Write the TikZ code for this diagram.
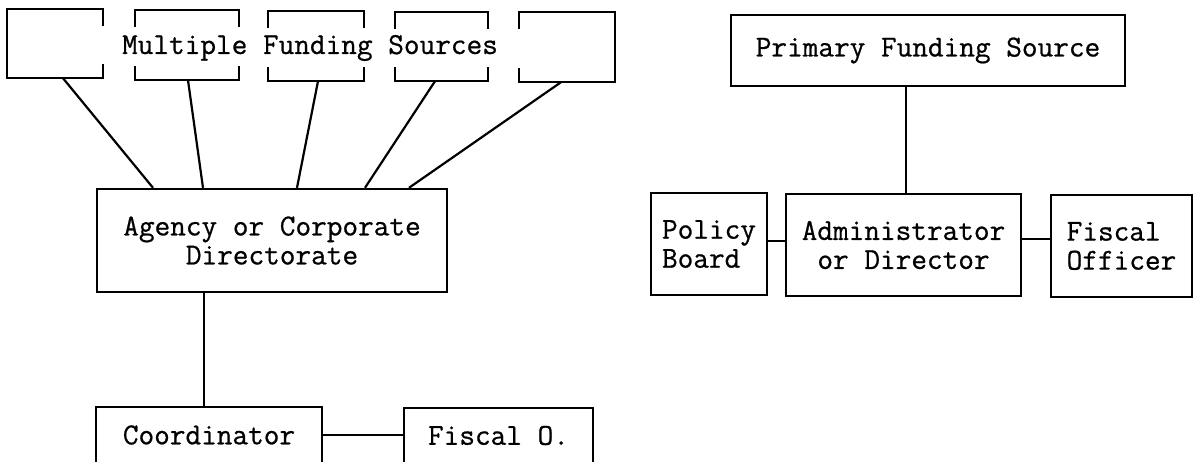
\documentclass[tikz,border=0pt]{standalone}
\usepackage{fontspec}
\newfontfamily\tw{Latin Modern Mono}[FakeBold=0.7]
\begin{document}
\begin{tikzpicture}[x=1pt,y=-1pt,line width=2.4pt,
  txt/.style={font=\tw\fontsize{30.4}{29}\selectfont},
  box/.style={draw,rectangle,inner sep=0pt,txt,align=center},
  lbox/.style={draw,rectangle,inner sep=0pt,txt,align=left},
  fbox/.style={rectangle,inner sep=0pt},
  link/.style={line width=2.2pt}]
\useasboundingbox (0,0) rectangle (1196,461);
\fill[white] (0,0) rectangle (1196,461);
\clip (0,0) rectangle (1196,461);
% multiple funding sources
\node[fbox,minimum width=94pt,minimum height=67pt] (f1) at (55,43.5) {};
\node[fbox,minimum width=102pt,minimum height=68pt] (f2) at (187,45) {};
\node[fbox,minimum width=94pt,minimum height=68pt] (f3) at (316,46) {};
\node[fbox,minimum width=91pt,minimum height=67pt] (f4) at (441.5,46.5) {};
\node[fbox,minimum width=94pt,minimum height=68pt] (f5) at (567,47) {};
\node[txt,inner sep=0pt] (msrc) at (310,48) {Multiple Funding Sources};
\draw ([yshift=-17pt]f1.north east) -- (f1.north east) -- (f1.north west) -- (f1.south west) -- (f1.south east) -- ([yshift=14pt]f1.south east);
\foreach \b in {f2,f3,f4}{
  \draw ([yshift=-17pt]\b.north west) -- (\b.north west) -- (\b.north east) -- ([yshift=-17pt]\b.north east);
  \draw ([yshift=14pt]\b.south west) -- (\b.south west) -- (\b.south east) -- ([yshift=14pt]\b.south east);
}
\draw ([yshift=-17pt]f5.north west) -- (f5.north west) -- (f5.north east) -- (f5.south east) -- (f5.south west) -- ([yshift=14pt]f5.south west);
% left hierarchy
\node[box,minimum width=350pt,minimum height=103pt] (agency) at (272,240.5) {Agency or Corporate\\Directorate};
\node[box,minimum width=226pt,minimum height=56pt] (coord) at (209,435) {Coordinator};
\node[box,minimum width=189pt,minimum height=55pt] (fo2) at (498.5,435.5) {Fiscal O.};
\draw[link] ([xshift=8pt]f1.south) -- ([xshift=-119pt]agency.north);
\draw[link] ([xshift=1pt]f2.south) -- ([xshift=-69pt]agency.north);
\draw[link] ([xshift=2pt]f3.south) -- ([xshift=25pt]agency.north);
\draw[link] ([xshift=-6.5pt]f4.south) -- ([xshift=93pt]agency.north);
\draw[link] ([xshift=-6pt]f5.south) -- ([xshift=137pt]agency.north);
\draw[link] ([xshift=-68pt]agency.south) -- ([xshift=-68pt]agency.south |- coord.north);
\draw[link] (coord.east) -- (coord.east -| fo2.west);
% right hierarchy
\node[box,minimum width=394pt,minimum height=71pt] (pfs) at (928,50.5) {Primary Funding Source};
\node[box,minimum width=235pt,minimum height=102pt] (admin) at (903.5,245) {Administrator\\or Director};
\node[lbox,minimum width=116pt,minimum height=102pt] (pb) at (709,244) {Policy\\Board};
\node[lbox,minimum width=141pt,minimum height=102pt] (fo) at (1121.5,246) {Fiscal\\Officer};
\draw[link] ([xshift=-22pt]pfs.south) -- ([xshift=-22pt]pfs.south |- admin.north);
\draw[link] ([yshift=3pt]pb.east) -- ([yshift=3pt]pb.east -| admin.west);
\draw[link] ([yshift=6pt]admin.east) -- ([yshift=6pt]admin.east -| fo.west);
\end{tikzpicture}
\end{document}
